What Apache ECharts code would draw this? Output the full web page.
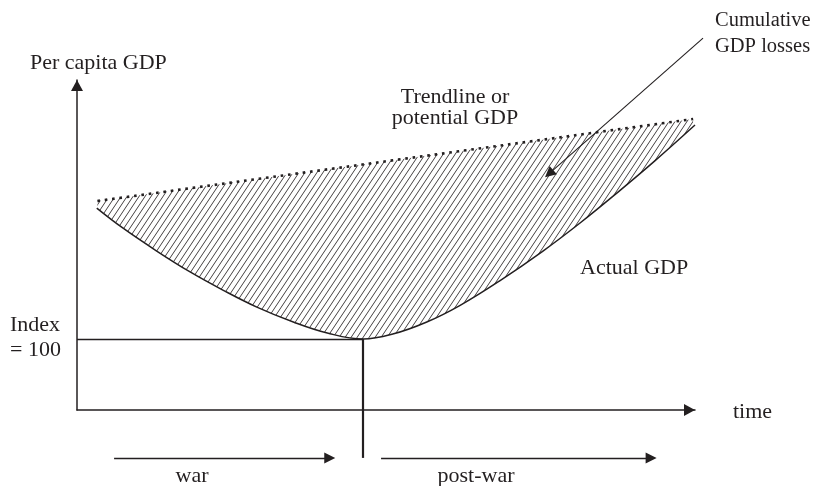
<!DOCTYPE html>
<html>
<head>
<meta charset="utf-8">
<script src="https://cdn.jsdelivr.net/npm/echarts@6/dist/echarts.min.js"></script>
<style>
  html, body { margin: 0; padding: 0; background: #fff; }
  #chart { width: 821px; height: 486px; }
</style>
</head>
<body>
<div id="chart"></div>
<script>
// time on 0..100, per capita GDP with the trough = 100
const timeActual = [3.2, 7.4, 12.9, 18.3, 23.6, 29.1, 35.0, 40.5, 46.3, 51.1, 56.6, 62.0, 68.4, 75.4, 81.4, 87.4, 93.5, 100];
const gdpActual = [136.9, 131.3, 124.8, 118.9, 113.8, 109.0, 104.8, 101.7, 100.0, 101.4, 104.8, 109.5, 116.4, 124.8, 132.7, 141.2, 150.2, 160.3];
const timeTrend = [3.3, 99.7];
const gdpTrend = [138.9, 162.0];

const indexLevel = 100;
const warEnd = 46.3;
const periodLevel = 66.5;          // where the war / post-war arrows sit
const warSpan = [6.0, 40.9];
const postWarSpan = [49.2, 92.9];
const pointerFrom = [101.3, 184.8];
const pointerTo = [76.4, 146.6];

const ink = '#231f20';
const serif = '"Liberation Serif", "DejaVu Serif", serif';

// diagonal hatching for the loss area
function hatch() {
  const c = document.createElement('canvas');
  c.width = 6; c.height = 9;
  const g = c.getContext('2d');
  g.strokeStyle = ink;
  g.lineWidth = 0.85;
  for (const dx of [-6, 0, 6]) {
    g.beginPath();
    g.moveTo(dx - 6, 18);
    g.lineTo(dx + 12, -9);
    g.stroke();
  }
  return c;
}

const zip = (xs, ys) => xs.map((x, i) => [x, ys[i]]);

function label(text, x, y, align, size) {
  return {
    type: 'text', x: x, y: y, z: 10,
    style: { text: text, font: (size || 22) + 'px ' + serif, fill: ink, align: align || 'left', verticalAlign: 'middle' }
  };
}

const chart = echarts.init(document.getElementById('chart'));
chart.setOption({
  animation: false,
  backgroundColor: '#fff',
  grid: { left: 77, top: 80, width: 618, height: 330 },
  xAxis: {
    type: 'value', min: 0, max: 100, z: 6,
    axisLine: {
      show: true, onZero: false,
      symbol: ['none', 'triangle'], symbolSize: [12, 11], symbolOffset: [0, -5.5],
      lineStyle: { color: ink, width: 1.5 }
    },
    axisTick: { show: false }, axisLabel: { show: false }, splitLine: { show: false }
  },
  yAxis: {
    type: 'value', min: 80, max: 173, z: 6,
    axisLine: {
      show: true, onZero: false,
      symbol: ['none', 'triangle'], symbolSize: [12, 11], symbolOffset: [0, -5.5],
      lineStyle: { color: ink, width: 1.5 }
    },
    axisTick: { show: false }, axisLabel: { show: false }, splitLine: { show: false }
  },
  series: [
    {
      name: 'Trendline',
      type: 'line',
      z: 2,
      symbol: 'none',
      data: zip(timeTrend, gdpTrend),
      lineStyle: { color: ink, width: 2.6, type: [2.6, 4.8], cap: 'butt' },
      areaStyle: { color: { image: hatch(), repeat: 'repeat' }, opacity: 1, origin: 'start' }
    },
    {
      // white fill under the actual path masks the hatching below it
      name: 'Actual GDP',
      type: 'line',
      z: 3,
      symbol: 'none',
      smooth: 0.4,
      data: zip(timeActual, gdpActual),
      lineStyle: { color: ink, width: 1.5 },
      areaStyle: { color: '#fff', opacity: 1, origin: 'start' }
    },
    {
      name: 'guides',
      type: 'lines',
      coordinateSystem: 'cartesian2d',
      z: 5,
      clip: false,
      silent: true,
      symbol: ['none', 'none'],
      lineStyle: { color: ink, width: 1.4, opacity: 1 },
      data: [
        { coords: [[0, indexLevel], [warEnd, indexLevel]] },
        { coords: [[warEnd, indexLevel], [warEnd, periodLevel]], lineStyle: { width: 2.2 } }
      ]
    },
    {
      name: 'arrows',
      type: 'lines',
      coordinateSystem: 'cartesian2d',
      z: 5,
      clip: false,
      silent: true,
      symbol: ['none', 'triangle'],
      symbolSize: 11,
      lineStyle: { color: ink, width: 1.4, opacity: 1 },
      data: [
        { coords: [[warSpan[0], periodLevel], [warSpan[1], periodLevel]] },
        { coords: [[postWarSpan[0], periodLevel], [postWarSpan[1], periodLevel]] },
        { coords: [pointerFrom, pointerTo], lineStyle: { width: 1.1 } }
      ]
    }
  ],
  graphic: [
    label('Per capita GDP', 30, 63),
    label('Trendline or', 455, 97, 'center'),
    label('potential GDP', 455, 118, 'center'),
    label('Cumulative', 715, 21, 'left', 20.5),
    label('GDP losses', 715, 47, 'left', 20.5),
    label('Actual GDP', 580, 268),
    label('time', 733, 412),
    label('Index', 10, 325),
    label('= 100', 10, 350),
    label('war', 192, 476, 'center'),
    label('post-war', 476, 476, 'center')
  ]
});
</script>
</body>
</html>
